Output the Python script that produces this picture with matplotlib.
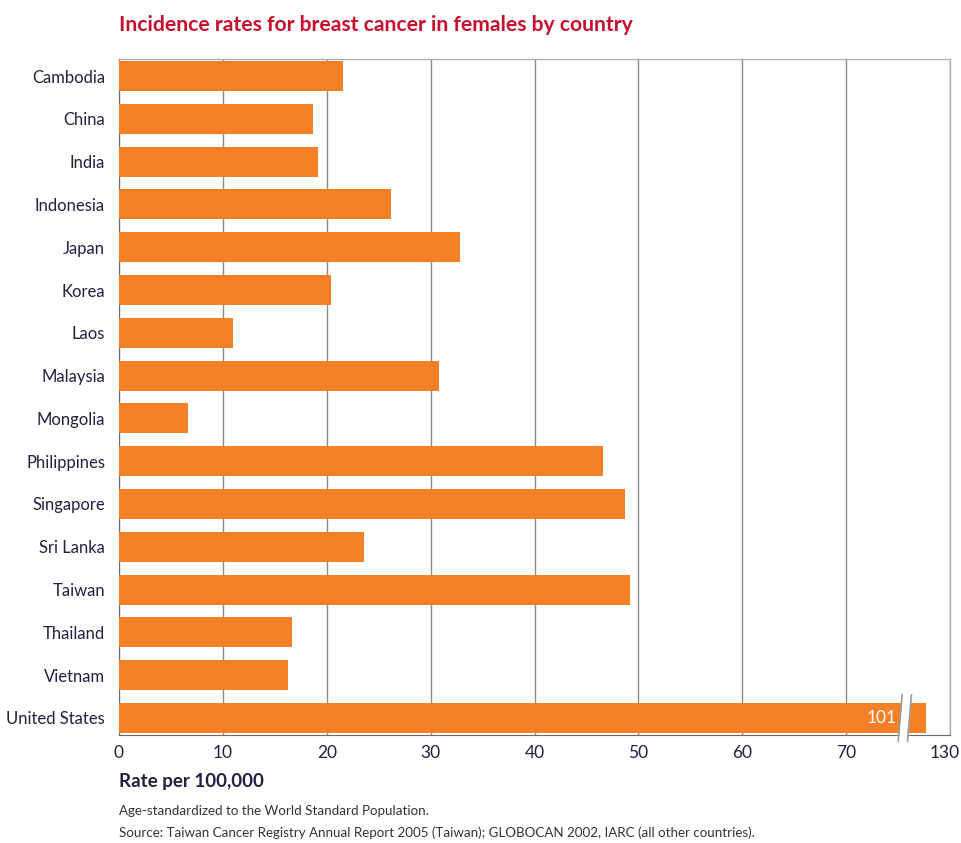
import numpy as np
import matplotlib
matplotlib.use("Agg")
import matplotlib.pyplot as plt
from matplotlib.transforms import ScaledTranslation

countries = ["Cambodia", "China", "India", "Indonesia", "Japan", "Korea", "Laos",
             "Malaysia", "Mongolia", "Philippines", "Singapore", "Sri Lanka",
             "Taiwan", "Thailand", "Vietnam", "United States"]
rates = [21.6, 18.7, 19.2, 26.2, 32.8, 20.4, 11.0, 30.8, 6.6, 46.6, 48.7,
         23.6, 49.2, 16.7, 16.3, 101]
tick_values = [0, 10, 20, 30, 40, 50, 60, 70, 130]
tick_labels = ["0", "10", "20", "30", "40", "50", "60", "70", "130"]

title = "Incidence rates for breast cancer in females by country"
xlabel = "Rate per 100,000"
note1 = "Age-standardized to the World Standard Population."
note2 = "Source: Taiwan Cancer Registry Annual Report 2005 (Taiwan); GLOBOCAN 2002, IARC (all other countries)."

plt.rcParams["font.family"] = ["Lato", "DejaVu Sans"]

BREAK = 75.65
K = (80.0 - BREAK) / (130.0 - BREAK)

def fwd(x):
    x = np.asarray(x, dtype=float)
    return np.where(x <= BREAK, x, BREAK + (x - BREAK) * K)

def inv(y):
    y = np.asarray(y, dtype=float)
    return np.where(y <= BREAK, y, BREAK + (y - BREAK) / K)

fig = plt.figure(figsize=(9.61, 8.43), dpi=100)
ax = fig.add_axes([119/961, 1 - 735/843, (950-119)/961, (735-59)/843])
ax.set_xscale("function", functions=(fwd, inv))

orange = "#f58025"
grid_c = "#8a8a8a"
text_c = "#1f2240"

y = np.arange(len(countries))
ax.barh(y, rates, height=0.7, color=orange, zorder=3)
ax.set_ylim(len(countries) - 0.6, -0.4)
ax.set_xlim(0, 130)
ax.set_yticks(y)
ax.set_yticklabels(countries, fontsize=12, color=text_c)
ax.set_xticks(tick_values)
ax.set_xticklabels(tick_labels, fontsize=12.5, color=text_c)
ax.tick_params(axis="y", length=0, pad=10)
ax.tick_params(axis="x", length=0, pad=7)
last = ax.get_xticklabels()[-1]
last.set_transform(last.get_transform() + ScaledTranslation(-5/100, 0, fig.dpi_scale_trans))
ax.grid(axis="x", color=grid_c, linewidth=1.0, zorder=0)
for s in ["top", "right"]:
    ax.spines[s].set_color("#b0b0b0")
    ax.spines[s].set_linewidth(1.0)
ax.spines["left"].set_color("#6a6a6a")
ax.spines["bottom"].set_color("#6a6a6a")

# value label for the broken bar
us = rates[-1]
ax.text(float(inv(BREAK - 0.8)), y[-1], str(us), color="white",
        fontsize=12.5, ha="right", va="center", zorder=5)

# axis break marks
half = 0.54
lean = 0.19
offs = (-0.45, 0.45)
xl = [[float(inv(BREAK + d - lean)), float(inv(BREAK + d + lean))] for d in offs]
yb = [y[-1] + half, y[-1] - half]
ax.fill_betweenx(yb, xl[0], xl[1], color="white", zorder=6, clip_on=False, linewidth=0)
for xs in xl:
    ax.plot(xs, yb, color="#9a9a9a", linewidth=1.2, zorder=7, clip_on=False)

fig.text(119/961, 1 - 25/843, title, color="#c8102e", fontsize=15.2,
         fontweight="bold", ha="left", va="center")
fig.text(119/961, 1 - 782/843, xlabel, color=text_c, fontsize=13.5,
         fontweight="bold", ha="left", va="center")
fig.text(119/961, 1 - 811/843, note1, color="#333333", fontsize=9.6,
         ha="left", va="center")
fig.text(119/961, 1 - 833/843, note2, color="#333333", fontsize=9.6,
         ha="left", va="center")

fig.savefig("out.png", dpi=100)
